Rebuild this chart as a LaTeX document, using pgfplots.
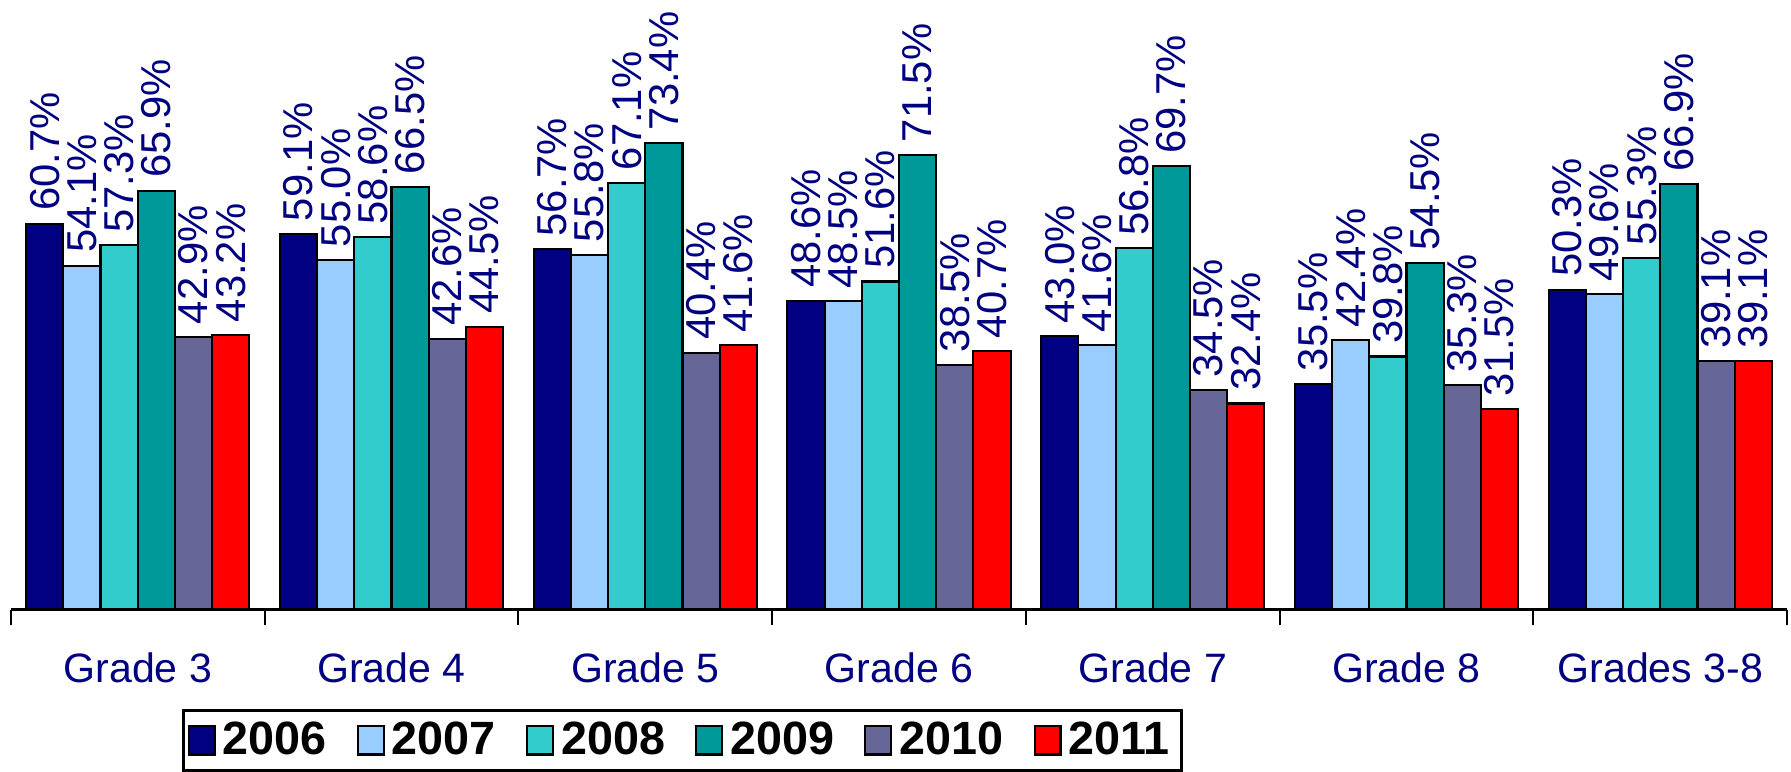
\documentclass[border=0pt]{standalone}
\usepackage{pgfplots}
\pgfplotsset{compat=1.18}
\usepackage{pgfplotstable}
\usepackage{fontspec}
\setmainfont{Liberation Sans}

\definecolor{c2006}{HTML}{000080}
\definecolor{c2007}{HTML}{99CCFF}
\definecolor{c2008}{HTML}{33CCCC}
\definecolor{c2009}{HTML}{009999}
\definecolor{c2010}{HTML}{666699}
\definecolor{c2011}{HTML}{FF0000}

% passing rates by grade, one column per year
\pgfplotstableread{
grade y2006 y2007 y2008 y2009 y2010 y2011
0 60.7 54.1 57.3 65.9 42.9 43.2
1 59.1 55.0 58.6 66.5 42.6 44.5
2 56.7 55.8 67.1 73.4 40.4 41.6
3 48.6 48.5 51.6 71.5 38.5 40.7
4 43.0 41.6 56.8 69.7 34.5 32.4
5 35.5 42.4 39.8 54.5 35.3 31.5
6 50.3 49.6 55.3 66.9 39.1 39.1
}\scores

\begin{document}
\begin{tikzpicture}
\begin{axis}[
    width=506pt, height=171.5pt, scale only axis,
    ybar=0pt, bar width=10.6pt,
    xmin=-0.5, xmax=6.5, ymin=0, ymax=94.7,
    axis x line*=bottom, axis y line=none,
    x axis line style={line width=0.7pt},
    xtick={0,...,6},
    xticklabels={Grade 3,Grade 4,Grade 5,Grade 6,Grade 7,Grade 8,Grades 3-8},
    major x tick style={draw=none},
    minor xtick={-0.5,0.5,...,6.5},
    minor x tick style={black, line width=0.6pt},
    minor tick length=4.5pt, xtick align=outside,
    xticklabel style={font=\fontsize{11.7}{14}\selectfont, text=c2006, yshift=-4.5pt},
    every axis plot/.append style={draw=black, line width=0.6pt},
    nodes near coords={\pgfmathprintnumber[fixed,fixed zerofill,precision=1,assume math mode=true]{\pgfplotspointmeta}\%},
    nodes near coords style={rotate=90, anchor=west, text=c2006, font=\fontsize{11.9}{14}\selectfont},
    legend style={at={(0.378,-0.165)}, anchor=north, legend columns=6,
        draw=black, line width=0.8pt, inner sep=1.2pt,
        font=\bfseries\fontsize{13.3}{15}\selectfont,
        /tikz/every even column/.append style={column sep=6.6pt}},
    legend image code/.code={\draw[#1, line width=0.6pt] (0pt,-4pt) rectangle (7.4pt,4pt);},
    clip=false,
]
\addplot[fill=c2006] table[x=grade, y=y2006] {\scores};
\addplot[fill=c2007] table[x=grade, y=y2007] {\scores};
\addplot[fill=c2008] table[x=grade, y=y2008] {\scores};
\addplot[fill=c2009] table[x=grade, y=y2009] {\scores};
\addplot[fill=c2010] table[x=grade, y=y2010] {\scores};
\addplot[fill=c2011] table[x=grade, y=y2011] {\scores};
\legend{2006,2007,2008,2009,2010,2011}
\end{axis}
\path ([xshift=-3.1pt]current axis.south west) ([xshift=1.1pt]current axis.north east);
\end{tikzpicture}
\end{document}
